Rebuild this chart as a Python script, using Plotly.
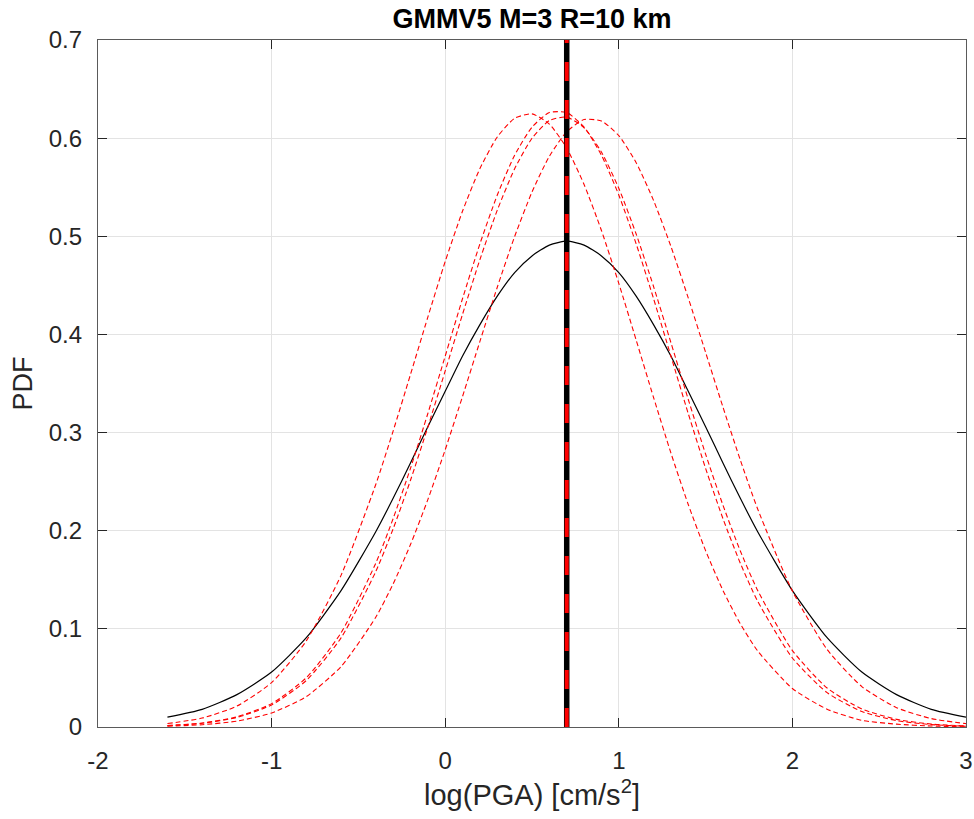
import plotly.graph_objects as go

# ---- data ----
x_vals = [-1.6, -1.4, -1.2, -1.0, -0.8, -0.6, -0.4, -0.3, -0.2, -0.1, 0.0, 0.1,
          0.2, 0.3, 0.4, 0.5, 0.6, 0.7, 0.8, 0.9, 1.0, 1.1, 1.2, 1.3,
          1.4, 1.5, 1.6, 1.7, 1.8, 2.0, 2.2, 2.4, 2.6, 2.8, 3.0]

pdf_total = [0.010, 0.018, 0.033, 0.056, 0.091, 0.139, 0.199, 0.233, 0.269, 0.306, 0.342, 0.378,
             0.410, 0.439, 0.463, 0.480, 0.491, 0.495, 0.491, 0.480, 0.463, 0.439, 0.410, 0.378,
             0.342, 0.306, 0.269, 0.233, 0.199, 0.139, 0.091, 0.056, 0.033, 0.018, 0.010]

pdf_branch_a = [0.0035, 0.0091, 0.0213, 0.0453, 0.0878, 0.1545, 0.2471, 0.3015, 0.3592, 0.4177, 0.4743, 0.5257,
                0.5690, 0.6012, 0.6202, 0.6247, 0.6143, 0.5898, 0.5528, 0.5059, 0.4520, 0.3943, 0.3359, 0.2793,
                0.2267, 0.1797, 0.1391, 0.1051, 0.0775, 0.0392, 0.0181, 0.0068, 0.0029, 0.0010, 0.0003]

pdf_branch_b = [0.0014, 0.0040, 0.0103, 0.0238, 0.0502, 0.0960, 0.1669, 0.2123, 0.2636, 0.3194, 0.3779, 0.4366,
                0.4923, 0.5420, 0.5826, 0.6112, 0.6261, 0.6261, 0.6113, 0.5826, 0.5420, 0.4923, 0.4366, 0.3780,
                0.3194, 0.2635, 0.2123, 0.1669, 0.1281, 0.0703, 0.0350, 0.0158, 0.0065, 0.0024, 0.0008]

pdf_branch_c = [0.0014, 0.0038, 0.0097, 0.0225, 0.0474, 0.0908, 0.1584, 0.2019, 0.2514, 0.3056, 0.3628, 0.4206,
                0.4763, 0.5266, 0.5688, 0.5999, 0.6179, 0.6215, 0.6106, 0.5858, 0.5489, 0.5023, 0.4489, 0.3918,
                0.3339, 0.2780, 0.2260, 0.1794, 0.1391, 0.0779, 0.0397, 0.0184, 0.0078, 0.0030, 0.0010]

pdf_branch_d = [0.0008, 0.0023, 0.0060, 0.0143, 0.0310, 0.0616, 0.1118, 0.1458, 0.1859, 0.2317, 0.2825, 0.3369,
                0.3929, 0.4481, 0.4998, 0.5451, 0.5815, 0.6066, 0.6189, 0.6175, 0.6026, 0.5750, 0.5366, 0.4898,
                0.4372, 0.3817, 0.3259, 0.2720, 0.2221, 0.1385, 0.0790, 0.0412, 0.0197, 0.0086, 0.0034]

median_x = 0.70
median_y = [0.0, 0.7]

x_ticks = [-2, -1, 0, 1, 2, 3]
x_ticktext = ["-2", "-1", "0", "1", "2", "3"]
y_ticks = [0, 0.1, 0.2, 0.3, 0.4, 0.5, 0.6, 0.7]
y_ticktext = ["0", "0.1", "0.2", "0.3", "0.4", "0.5", "0.6", "0.7"]

title_text = "GMMV5 M=3 R=10 km"
x_title = "log(PGA) [cm/s<sup>2</sup>]"
y_title = "PDF"

# ---- figure ----
FONT = "Liberation Sans, Arial, sans-serif"
AX = "#262626"

fig = go.Figure()

fig.add_trace(go.Scatter(x=x_vals, y=pdf_total, mode="lines",
                         line=dict(color="black", width=1.2, shape="spline", smoothing=0.6),
                         showlegend=False, hoverinfo="skip"))

for branch in [pdf_branch_a, pdf_branch_b, pdf_branch_c, pdf_branch_d]:
    fig.add_trace(go.Scatter(x=x_vals, y=branch, mode="lines",
                             line=dict(color="#ff0000", width=1.1, dash="5px,3px",
                                       shape="spline", smoothing=0.6),
                             showlegend=False, hoverinfo="skip"))

fig.add_trace(go.Scatter(x=[median_x, median_x], y=median_y, mode="lines",
                         line=dict(color="black", width=5.5),
                         showlegend=False, hoverinfo="skip"))
fig.add_trace(go.Scatter(x=[median_x, median_x], y=median_y, mode="lines",
                         line=dict(color="#ff0000", width=4, dash="19px,19px"),
                         showlegend=False, hoverinfo="skip"))

fig.update_layout(
    width=974, height=819,
    margin=dict(l=98, r=8, t=40, b=92, autoexpand=False),
    paper_bgcolor="white", plot_bgcolor="white",
    font=dict(family=FONT, color=AX),
    title=dict(text="<b>" + title_text + "</b>", x=0.5, xref="paper",
               y=1 - 19 / 819, yref="container", yanchor="middle",
               font=dict(size=27, color="black", family=FONT)),
)

fig.update_xaxes(
    range=[-2, 3], tickvals=x_ticks, ticktext=x_ticktext,
    ticks="inside", ticklen=9, tickwidth=1, tickcolor=AX,
    showline=True, linecolor="#5a5a5a", linewidth=1.3, mirror="ticks",
    showgrid=True, gridcolor="#e3e3e3", gridwidth=1, zeroline=False,
    tickfont=dict(size=24, color=AX, family=FONT), ticklabelstandoff=12,
    title=dict(text=x_title, font=dict(size=29, color=AX, family=FONT), standoff=11),
)
fig.update_yaxes(
    range=[0, 0.7], tickvals=y_ticks, ticktext=y_ticktext,
    ticks="inside", ticklen=9, tickwidth=1, tickcolor=AX,
    showline=True, linecolor="#5a5a5a", linewidth=1.3, mirror="ticks",
    showgrid=True, gridcolor="#e3e3e3", gridwidth=1, zeroline=False,
    tickfont=dict(size=24, color=AX, family=FONT), ticklabelstandoff=10,
    title=dict(text=y_title, font=dict(size=27, color=AX, family=FONT), standoff=8),
)

fig.write_html("out.html")
